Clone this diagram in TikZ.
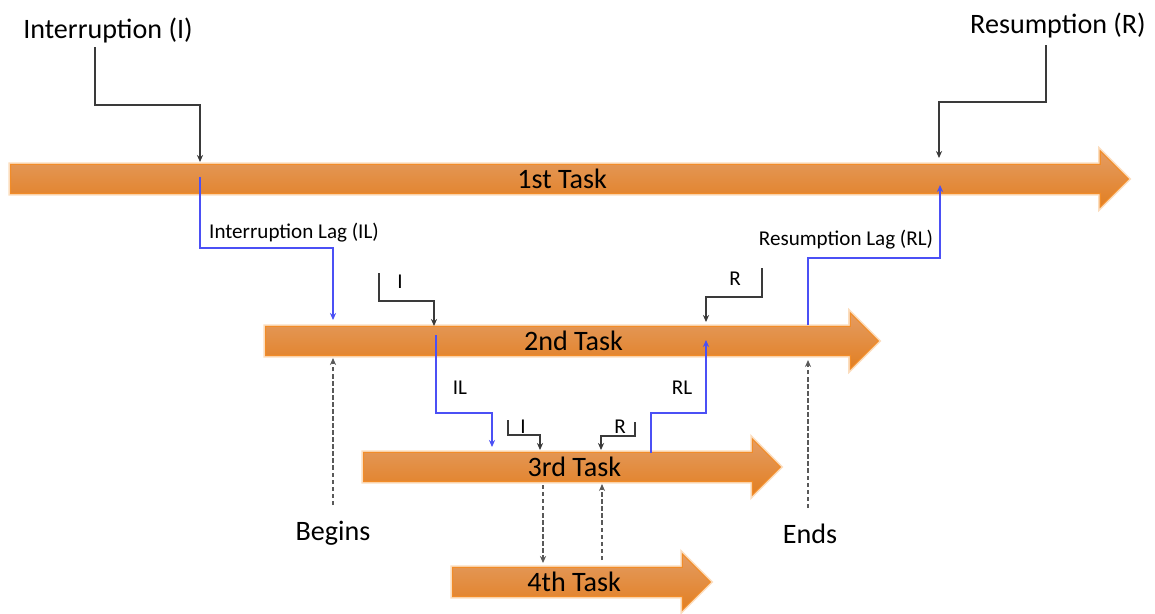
\documentclass[tikz,border=0pt]{standalone}
\usepackage{fontspec}
\setmainfont{Carlito}
\usetikzlibrary{shapes.arrows,arrows.meta}

\definecolor{tasktop}{HTML}{E49C62}
\definecolor{taskbottom}{HTML}{E27F22}
\definecolor{taskedge}{HTML}{F28C28}
\definecolor{lagblue}{HTML}{4B50F5}
\definecolor{cuegray}{HTML}{3A3A3A}

\begin{document}
\begin{tikzpicture}[x=0.02cm,y=-0.02cm,>={Stealth[length=4pt,width=3.5pt]}]
\tikzstyle{task}=[
  single arrow,
  single arrow head extend=0.27cm,
  top color=tasktop, bottom color=taskbottom,
  draw=taskedge, line width=0.6pt,
  preaction={draw=taskedge!30, line width=2.4pt},
  inner xsep=0pt, inner ysep=0.5pt,
  text height=13pt, text depth=2pt,
  font=\fontsize{16}{18}\selectfont,
  anchor=tail ]
\tikzstyle{big}=[font=\fontsize{16}{18}\selectfont, anchor=base, inner sep=1pt]
\tikzstyle{small}=[font=\fontsize{12}{14}\selectfont, anchor=base, inner sep=1pt]
\tikzstyle{cue}=[draw=cuegray, line width=0.8pt, ->]
\tikzstyle{lag}=[draw=lagblue, line width=0.8pt, ->]
\tikzstyle{span}=[draw=gray!70!black, line width=1.1pt,
  dash pattern=on 2.5pt off 1.5pt, ->]
\useasboundingbox (0,0) rectangle (1155,613);

% the four tasks
\node[task, minimum height=22.36cm] (t1) at (10,179) {1st Task};
\node[task, minimum height=12.26cm] (t2) at (265,341) {\hspace*{10pt}2nd Task};
\node[task, minimum height=8.34cm] (t3) at (363,467) {\hspace*{11pt}3rd Task};
\node[task, minimum height=5.16cm] (t4) at (452,582) {4th Task};

% labels
\node[big] (intI) at (108,38) {Interruption (I)};
\node[big] (resR) at (1058,33) {Resumption (R)};
\node[small] (ilLab) at (294,238) {Interruption Lag (IL)};
\node[small] (rlLab) at (846,245) {Resumption Lag (RL)};
\node[small] (i2) at (400,288) {I};
\node[small] (r2) at (735,285) {R};
\node[small] (il2) at (460,394) {IL};
\node[small] (rl2) at (682,394) {RL};
\node[small] (i3) at (523,433) {I};
\node[small] (r3) at (620,433) {R};
\node[big] (beg) at (333,540) {Begins};
\node[big] (ends) at (810,543) {Ends};

% end points
\coordinate (iOn) at (95,47);   \coordinate (iAt) at (200,162);
\coordinate (rOn) at (1046,45); \coordinate (rAt) at (939,158);
\coordinate (ilOff) at (200,177); \coordinate (ilAt) at (333,320);
\coordinate (rlOff) at (808,325); \coordinate (rlAt) at (940,185);
\coordinate (i2On) at (379,273); \coordinate (i2At) at (434,326);
\coordinate (r2On) at (762,268); \coordinate (r2At) at (706,322);
\coordinate (il2Off) at (436,335); \coordinate (il2At) at (492,447);
\coordinate (rl2Off) at (651,453); \coordinate (rl2At) at (706,340);
\coordinate (i3On) at (508,420); \coordinate (i3At) at (540,450);
\coordinate (r3On) at (635,422); \coordinate (r3At) at (601,450);
\coordinate (begOff) at (333,505); \coordinate (begAt) at (333,358);
\coordinate (endOff) at (808,508); \coordinate (endAt) at (808,360);
\coordinate (downOff) at (543,485); \coordinate (downAt) at (543,563);
\coordinate (upOff) at (602,560); \coordinate (upAt) at (602,484);

% interruptions and resumptions
\draw[cue] (iOn) -- ++(0,58) -| (iAt);
\draw[cue] (rOn) -- ++(0,57) -| (rAt);
\draw[cue] (i2On) -- ++(0,28) -| (i2At);
\draw[cue] (r2On) -- ++(0,29) -| (r2At);
\draw[cue] (i3On) -- ++(0,15) -| (i3At);
\draw[cue] (r3On) -- ++(0,14) -| (r3At);

% lags
\draw[lag] (ilOff) -- ++(0,71) -| (ilAt);
\draw[lag] (rlOff) -- ++(0,-67) -| (rlAt);
\draw[lag] (il2Off) -- ++(0,78) -| (il2At);
\draw[lag] (rl2Off) -- ++(0,-40) -| (rl2At);

% begins / ends
\draw[span] (begOff) -- (begAt);
\draw[span] (endOff) -- (endAt);
\draw[span] (downOff) -- (downAt);
\draw[span] (upOff) -- (upAt);
\end{tikzpicture}
\end{document}
